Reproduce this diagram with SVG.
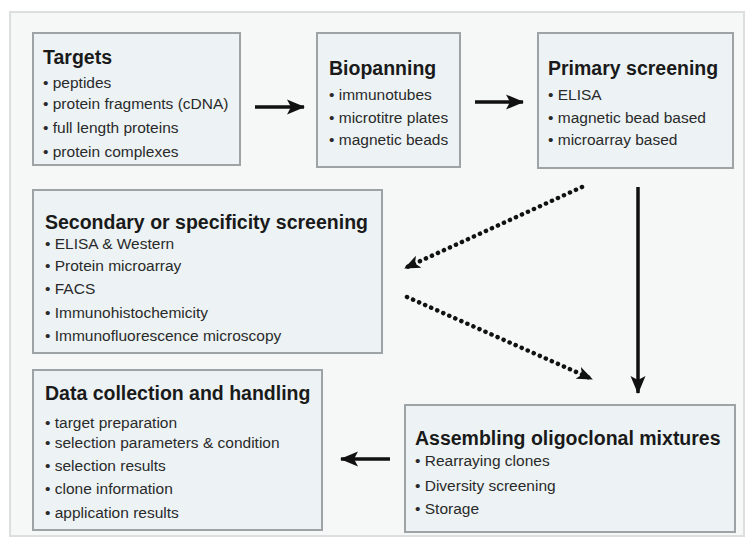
<svg xmlns="http://www.w3.org/2000/svg" width="745" height="546" viewBox="0 0 745 546">
<style>
.box{fill:#edf3f5;stroke:#9ea3a5;stroke-width:2}
.t{font-family:"Liberation Sans",Arial,sans-serif;font-weight:bold;font-size:19.5px;fill:#1a1a1a}
.i{font-family:"Liberation Sans",Arial,sans-serif;font-size:15.5px;fill:#2a2a2a}
.solid{stroke:#111;stroke-width:3.5;fill:none}
.dot{stroke:#111;stroke-width:4.5;fill:none;stroke-dasharray:0.1 6.5;stroke-linecap:round}
</style>
<defs>
<marker id="ah" markerUnits="userSpaceOnUse" markerWidth="18" markerHeight="18" viewBox="0 0 18 18" refX="17" refY="9" orient="auto">
<path d="M0,1.5 L18,9 L0,16.5 L4,9 Z" fill="#111"/>
</marker>
<marker id="ahs" markerUnits="userSpaceOnUse" markerWidth="16" markerHeight="16" viewBox="0 0 16 16" refX="15" refY="8" orient="auto">
<path d="M0,1.5 L16,8 L0,14.5 L4,8 Z" fill="#111"/>
</marker>
</defs>
<rect x="0" y="0" width="745" height="546" fill="#ffffff"/>
<rect x="10" y="12" width="734" height="524" fill="#f6f8f8" stroke="#dcdfe0" stroke-width="2"/>

<g id="targets">
<rect class="box" x="33" y="33" width="207" height="132"/>
<text class="t" x="43" y="64">Targets</text>
<text class="i" x="43" y="88">• peptides</text>
<text class="i" x="43" y="109">• protein fragments (cDNA)</text>
<text class="i" x="43" y="133">• full length proteins</text>
<text class="i" x="43" y="157">• protein complexes</text>
</g>

<g id="biopanning">
<rect class="box" x="317" y="33" width="143" height="134"/>
<text class="t" x="329" y="75">Biopanning</text>
<text class="i" x="329" y="100">• immunotubes</text>
<text class="i" x="329" y="123">• microtitre plates</text>
<text class="i" x="329" y="145">• magnetic beads</text>
</g>

<g id="primary">
<rect class="box" x="538" y="33" width="195" height="135"/>
<text class="t" x="548" y="75">Primary screening</text>
<text class="i" x="548" y="100">• ELISA</text>
<text class="i" x="548" y="123">• magnetic bead based</text>
<text class="i" x="548" y="145">• microarray based</text>
</g>

<g id="secondary">
<rect class="box" x="33" y="190" width="349" height="163"/>
<text class="t" x="45" y="229">Secondary or specificity screening</text>
<text class="i" x="45" y="249">• ELISA &amp; Western</text>
<text class="i" x="45" y="271">• Protein microarray</text>
<text class="i" x="45" y="294">• FACS</text>
<text class="i" x="45" y="318">• Immunohistochemicity</text>
<text class="i" x="45" y="341">• Immunofluorescence microscopy</text>
</g>

<g id="data">
<rect class="box" x="33" y="370" width="289" height="160"/>
<text class="t" x="45" y="400">Data collection and handling</text>
<text class="i" x="45" y="428">• target preparation</text>
<text class="i" x="45" y="448">• selection parameters &amp; condition</text>
<text class="i" x="45" y="471">• selection results</text>
<text class="i" x="45" y="494">• clone information</text>
<text class="i" x="45" y="518">• application results</text>
</g>

<g id="assembling">
<rect class="box" x="405" y="405" width="330" height="127"/>
<text class="t" x="415" y="445">Assembling oligoclonal mixtures</text>
<text class="i" x="415" y="466">• Rearraying clones</text>
<text class="i" x="415" y="491">• Diversity screening</text>
<text class="i" x="415" y="514">• Storage</text>
</g>

<g id="connectors">
<line class="solid" x1="255" y1="107" x2="304" y2="107" marker-end="url(#ah)"/>
<line class="solid" x1="475" y1="102" x2="523" y2="102" marker-end="url(#ah)"/>
<line class="solid" x1="638" y1="187" x2="638" y2="393" marker-end="url(#ah)"/>
<line class="solid" x1="390" y1="459" x2="341" y2="459" marker-end="url(#ah)"/>
<line class="dot" x1="582" y1="187" x2="405" y2="268" marker-end="url(#ahs)"/>
<line class="dot" x1="407" y1="297" x2="592" y2="379" marker-end="url(#ahs)"/>
</g>
</svg>
